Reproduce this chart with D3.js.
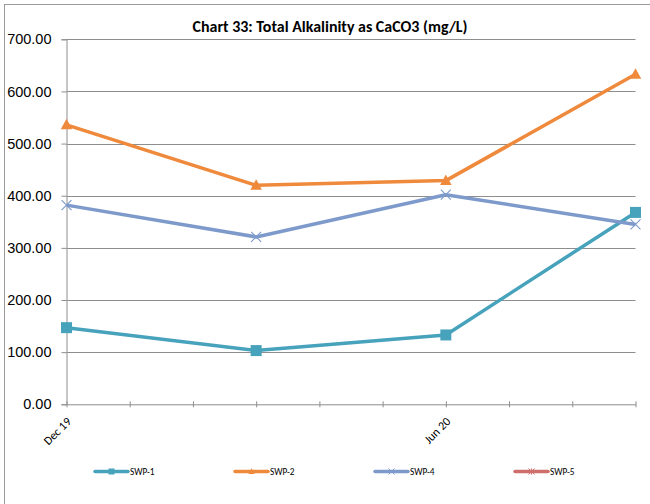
<!DOCTYPE html>
<html>
<head>
<meta charset="utf-8">
<script src="https://cdn.jsdelivr.net/npm/d3@7"></script>
<style>
  html, body { margin: 0; padding: 0; background: #fff; }
  svg { display: block; }
</style>
</head>
<body>
<svg id="chart" width="650" height="504"></svg>
<script>
// Sampling months, counted from Dec 2019
const sampleMonths = ["2019-12", "2020-03", "2020-06", "2020-09"];
const monthOffsets = [0, 3, 6, 9];

// Total alkalinity as CaCO3 (mg/L) per site
const swp1 = [147, 103, 133, 368];
const swp2 = [536, 420, 429, 633];
const swp4 = [382, 321, 402, 345];
const swp5 = [];

const seriesNames = ["SWP-1", "SWP-2", "SWP-4", "SWP-5"];
const seriesColors = ["#47a2bc", "#ef8a3d", "#7d9acb", "#cf6f6d"];
const seriesMarkers = ["square", "triangle", "cross", "star"];

const yTicks = [0, 100, 200, 300, 400, 500, 600, 700];
const xTickMonths = [0, 1, 2, 3, 4, 5, 6, 7, 8, 9];
const xLabelMonths = [0, 6];
const xLabels = ["Dec 19", "Jun 20"];

const titleText = "Chart 33: Total Alkalinity as CaCO3 (mg/L)";

const svg = d3.select("#chart");
const plot = { left: 66.5, right: 635.5, top: 39.3, bottom: 404.3 };

const x = d3.scaleLinear().domain([0, 9]).range([plot.left, plot.right]);
const y = d3.scaleLinear().domain([0, 700]).range([plot.bottom, plot.top]);

const gridColor = "#8e8e8e";
const fontFam = "Carlito, Calibri, 'Liberation Sans', Arial, sans-serif";

// Outer chart frame (runs off the right and bottom edges)
svg.append("rect")
  .attr("x", 4.5).attr("y", 4.5)
  .attr("width", 700).attr("height", 600)
  .attr("fill", "none").attr("stroke", "#9a9a9a").attr("stroke-width", 1);

// Title, sized to span its slot above the plot
const title = svg.append("text")
  .attr("x", 330).attr("y", 32)
  .attr("text-anchor", "middle")
  .attr("font-family", fontFam)
  .attr("font-weight", "bold")
  .attr("font-size", 14)
  .attr("fill", "#000")
  .text(titleText);
const tw = title.node().getComputedTextLength();
if (tw > 0) title.attr("font-size", 14 * 275 / tw);

// Horizontal gridlines
svg.append("g")
  .selectAll("line")
  .data(yTicks.filter(d => d > 0))
  .join("line")
  .attr("x1", plot.left).attr("x2", plot.right)
  .attr("y1", d => Math.round(y(d)) + 0.5).attr("y2", d => Math.round(y(d)) + 0.5)
  .attr("stroke", gridColor).attr("stroke-width", 1);

// Y axis
const yAxis = svg.append("g")
  .attr("transform", `translate(${plot.left},0)`)
  .call(d3.axisLeft(y).tickValues(yTicks).tickFormat(d3.format(".2f")).tickSize(5).tickPadding(10));
yAxis.select(".domain").attr("stroke", gridColor);
yAxis.selectAll(".tick line").attr("stroke", gridColor);
yAxis.selectAll(".tick text")
  .attr("font-family", "'Liberation Sans', Arial, sans-serif")
  .attr("font-size", 14.5)
  .attr("fill", "#000");

// X axis with monthly ticks, labelled every six months
const xAxis = svg.append("g")
  .attr("transform", `translate(0,${plot.bottom})`)
  .call(d3.axisBottom(x).tickValues(xTickMonths).tickSizeInner(3).tickSizeOuter(0)
    .tickFormat(d => { const i = xLabelMonths.indexOf(d); return i >= 0 ? xLabels[i] : ""; }));
xAxis.select(".domain").attr("stroke", gridColor);
xAxis.selectAll(".tick line").attr("stroke", gridColor).attr("y1", -3);
xAxis.selectAll(".tick text")
  .attr("font-family", fontFam)
  .attr("font-size", 12)
  .attr("fill", "#000")
  .attr("text-anchor", "end")
  .attr("x", 0).attr("y", 0)
  .attr("dy", "0.35em")
  .attr("transform", "translate(2,15) rotate(-45)");

const allSeries = [swp1, swp2, swp4, swp5];

function markerPath(type, s) {
  const h = s / 2;
  if (type === "square") return `M${-h},${-h}H${h}V${h}H${-h}Z`;
  if (type === "triangle") return `M0,${-h * 1.1}L${h * 1.05},${h * 0.8}L${-h * 1.05},${h * 0.8}Z`;
  if (type === "cross") return `M${-h},${-h}L${h},${h}M${h},${-h}L${-h},${h}`;
  return `M${-h},${-h}L${h},${h}M${h},${-h}L${-h},${h}M0,${-h}V${h}`;
}

const line = d3.line()
  .x(d => x(d.m))
  .y(d => y(d.v));

allSeries.forEach((vals, i) => {
  const pts = vals.map((v, j) => ({ m: monthOffsets[j], v }));
  const g = svg.append("g");
  g.append("path")
    .datum(pts)
    .attr("d", line)
    .attr("fill", "none")
    .attr("stroke", seriesColors[i])
    .attr("stroke-width", 3.5)
    .attr("stroke-linejoin", "round");
  const type = seriesMarkers[i];
  const isStroke = type === "cross" || type === "star";
  g.selectAll("path.mk")
    .data(pts)
    .join("path")
    .attr("class", "mk")
    .attr("transform", d => `translate(${x(d.m)},${y(d.v)})`)
    .attr("d", markerPath(type, isStroke ? 10 : 11))
    .attr("fill", isStroke ? "none" : seriesColors[i])
    .attr("stroke", seriesColors[i])
    .attr("stroke-width", isStroke ? 1.1 : 0);
});

// Legend
const legendX = [95, 235, 375, 515];
const legendY = 471.5;
const legend = svg.append("g");
seriesNames.forEach((name, i) => {
  const lx = legendX[i];
  legend.append("line")
    .attr("x1", lx).attr("x2", lx + 33)
    .attr("y1", legendY).attr("y2", legendY)
    .attr("stroke", seriesColors[i]).attr("stroke-width", 3.5)
    .attr("stroke-linecap", "round");
  const type = seriesMarkers[i];
  const isStroke = type === "cross" || type === "star";
  legend.append("path")
    .attr("transform", `translate(${lx + 16.5},${legendY})`)
    .attr("d", markerPath(type, 6))
    .attr("fill", isStroke ? "none" : seriesColors[i])
    .attr("stroke", seriesColors[i])
    .attr("stroke-width", isStroke ? 1 : 0);
  legend.append("text")
    .attr("x", lx + 35).attr("y", legendY + 3.3)
    .attr("font-family", fontFam)
    .attr("font-size", 9.3)
    .attr("fill", "#000")
    .text(name);
});
</script>
</body>
</html>
